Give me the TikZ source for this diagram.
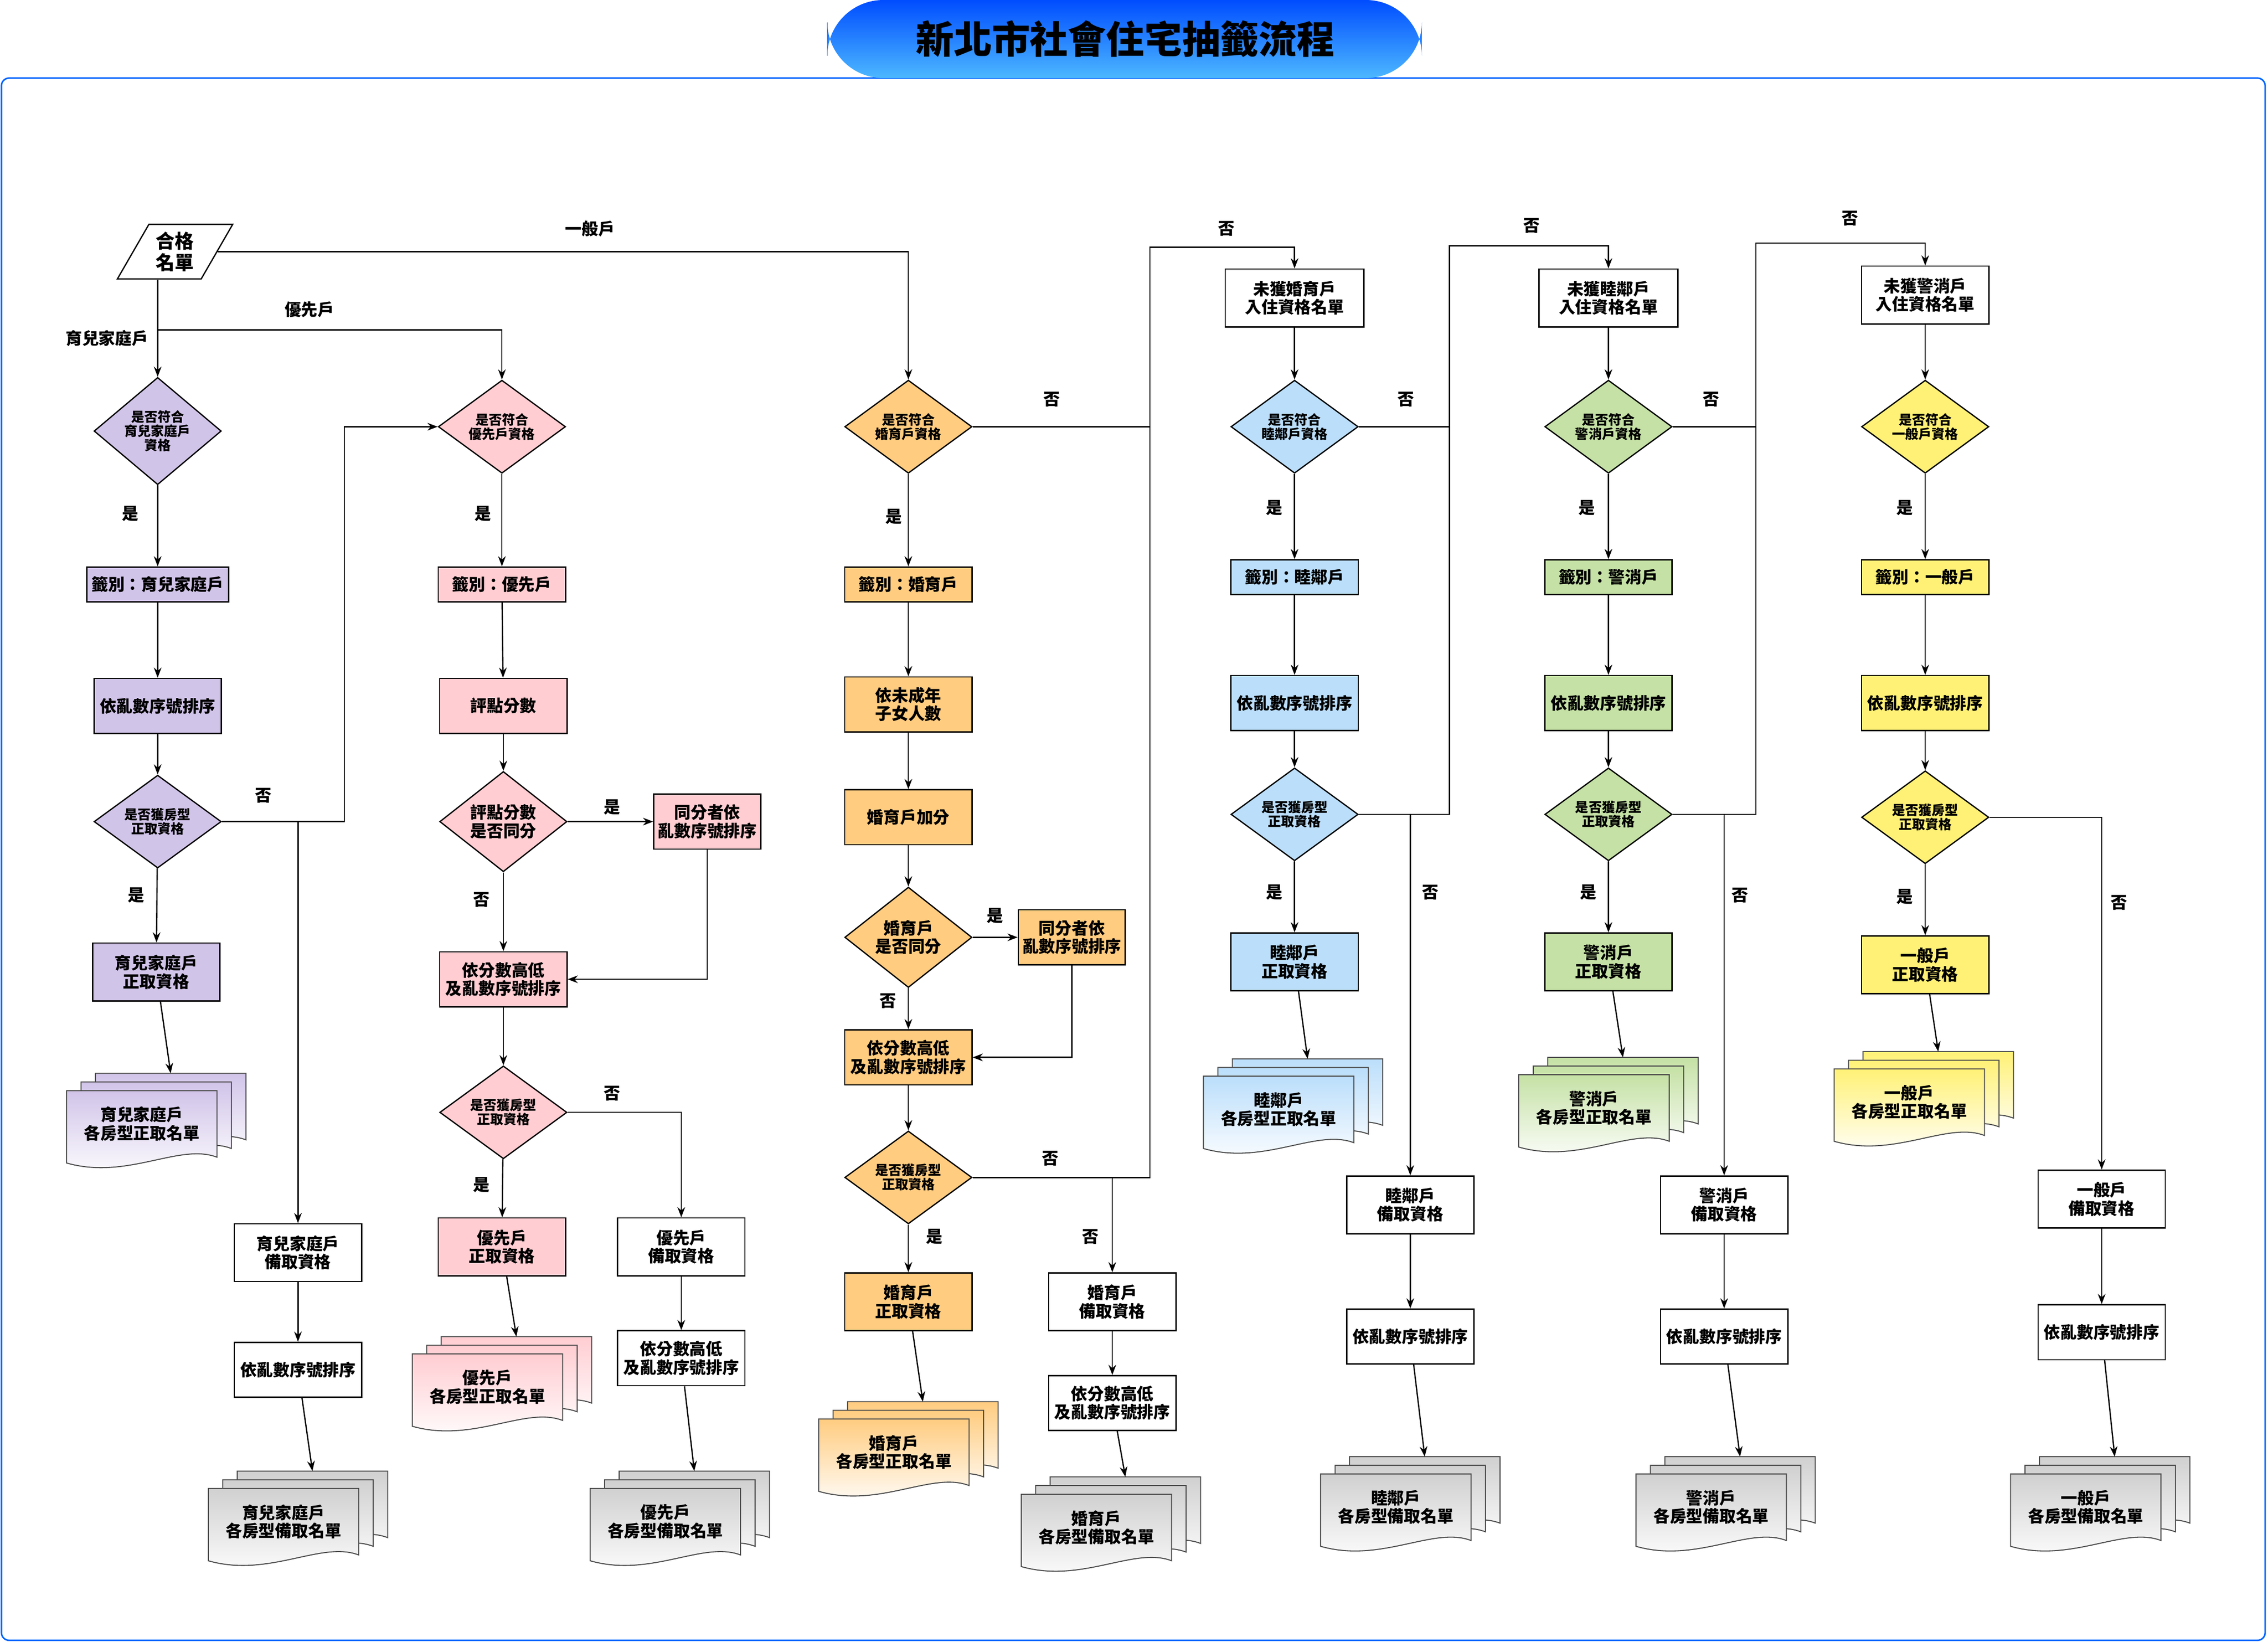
\documentclass[tikz,border=0pt]{standalone}
\usepackage{fontspec}
\setmainfont{Noto Sans CJK TC}
\usetikzlibrary{shapes.geometric,arrows.meta}
\newcommand\nf{\fontsize{6.5}{7.2}\selectfont\bfseries}
\newcommand\df{\fontsize{5.2}{5.6}\selectfont\bfseries}
\definecolor{cpur}{HTML}{D1C4E9}
\definecolor{cpink}{HTML}{FFCDD2}
\definecolor{cora}{HTML}{FFCC80}
\definecolor{cblue}{HTML}{BBDEFB}
\definecolor{cgreen}{HTML}{C5E1A5}
\definecolor{cyel}{HTML}{FFF176}
\definecolor{cgrey}{HTML}{D0D0D0}
\newcommand\onedoc[2]{\draw[line width=0.4pt,draw=black!70,top color=#2,bottom color=white,shift={(#1)}] (-52,-26) -- (52,-26) -- (52,20) .. controls (26,10) and (-10,36) .. (-52,24) -- cycle;}
\newcommand\docstack[5]{%
 \onedoc{#2+10,#3-6}{#4}\onedoc{#2,#3}{#4}\onedoc{#2-10,#3+6}{#4}%
 \node[font=\nf,align=center] (#1) at (#2-10,#3+3) {#5};
 \coordinate (#1t) at (#2+10,#3-32);}
\begin{document}
\begin{tikzpicture}[x=0.02cm,y=-0.02cm,
 every path/.style={line width=0.5pt},
 arr/.style={-{Stealth[length=4pt,width=3pt]}},
 box/.style={draw,minimum width=1.76cm,minimum height=0.76cm,align=center,font=\nf,inner sep=1pt},
 sbox/.style={box,minimum height=0.48cm},
 dia/.style={draw,diamond,minimum width=1.76cm,minimum height=1.2cm,inner sep=0pt,align=center,font=\df},
 lab/.style={font=\nf}]
\useasboundingbox (0,0) rectangle (1568,1135);
\fill[white] (0,0) rectangle (1568,1135);
\draw[color=blue!60!cyan,line width=0.6pt,rounded corners=3] (1,54) rectangle (1566,1134);
\shade[top color=blue!70!cyan,bottom color=blue!40!cyan!70,rounded corners=22] (572,54) -- (572,0) -- (983,0) -- (983,54) -- cycle;
\node[font=\fontsize{15}{16}\selectfont\bfseries] (title) at (778,27) {新北市社會住宅抽籤流程};

% source
\node[draw,trapezium,trapezium left angle=60,trapezium right angle=120,minimum width=1.6cm,minimum height=0.68cm,inner sep=0pt,align=center,font=\fontsize{7.5}{8.5}\selectfont\bfseries] (src) at (121,174) {合格\\名單};

% column 1
\node[dia,fill=cpur] (d1) at (109,298) {是否符合\\育兒家庭戶\\資格};
\node[sbox,fill=cpur,minimum width=1.96cm] (a1) at (109,404) {籤別：育兒家庭戶};
\node[box,fill=cpur] (a2) at (109,488) {依亂數序號排序};
\node[dia,fill=cpur] (d1b) at (109,568) {是否獲房型\\正取資格};
\node[box,fill=cpur,minimum height=0.8cm] (a3) at (108,672) {育兒家庭戶\\正取資格};
\docstack{s1}{108}{774}{cpur}{育兒家庭戶\\各房型正取名單}
\node[box,minimum height=0.8cm] (y1) at (206,866) {育兒家庭戶\\備取資格};
\node[box] (y2) at (206,947) {依亂數序號排序};
\docstack{s1b}{206}{1049}{cgrey}{育兒家庭戶\\各房型備取名單}

% column 2
\node[dia,fill=cpink] (d2) at (347,295) {是否符合\\優先戶資格};
\node[sbox,fill=cpink] (p1) at (347,404) {籤別：優先戶};
\node[box,fill=cpink] (p2) at (348,488) {評點分數};
\node[dia,fill=cpink,font=\nf] (d2b) at (348,568) {評點分數\\是否同分};
\node[box,fill=cpink,minimum width=1.48cm] (p3) at (489,568) {同分者依\\亂數序號排序};
\node[box,fill=cpink] (p4) at (348,677) {依分數高低\\及亂數序號排序};
\node[dia,fill=cpink] (d2c) at (348,769) {是否獲房型\\正取資格};
\node[box,fill=cpink,minimum height=0.8cm] (p5) at (347,862) {優先戶\\正取資格};
\docstack{s2}{347}{956}{cpink}{優先戶\\各房型正取名單}
\node[box,minimum height=0.8cm] (p6) at (471,862) {優先戶\\備取資格};
\node[box] (p7) at (471,939) {依分數高低\\及亂數序號排序};
\docstack{s2b}{470}{1049}{cgrey}{優先戶\\各房型備取名單}

% column 3
\node[dia,fill=cora] (d3) at (628,295) {是否符合\\婚育戶資格};
\node[sbox,fill=cora] (m1) at (628,404) {籤別：婚育戶};
\node[box,fill=cora] (m2) at (628,487) {依未成年\\子女人數};
\node[box,fill=cora] (m3) at (628,565) {婚育戶加分};
\node[dia,fill=cora,font=\nf] (d3b) at (628,648) {婚育戶\\是否同分};
\node[box,fill=cora,minimum width=1.48cm] (m4) at (741,648) {同分者依\\亂數序號排序};
\node[box,fill=cora] (m5) at (628,731) {依分數高低\\及亂數序號排序};
\node[dia,fill=cora] (d3c) at (628,814) {是否獲房型\\正取資格};
\node[box,fill=cora,minimum height=0.8cm] (m6) at (628,900) {婚育戶\\正取資格};
\docstack{s3}{628}{1001}{cora}{婚育戶\\各房型正取名單}
\node[box,minimum height=0.8cm] (m7) at (769,900) {婚育戶\\備取資格};
\node[box] (m8) at (769,970) {依分數高低\\及亂數序號排序};
\docstack{s3b}{768}{1053}{cgrey}{婚育戶\\各房型備取名單}

% column 4
\node[box,minimum width=1.92cm,minimum height=0.8cm] (n4) at (895,206) {未獲婚育戶\\入住資格名單};
\node[dia,fill=cblue] (d4) at (895,295) {是否符合\\睦鄰戶資格};
\node[sbox,fill=cblue] (b1) at (895,399) {籤別：睦鄰戶};
\node[box,fill=cblue] (b2) at (895,486) {依亂數序號排序};
\node[dia,fill=cblue] (d4b) at (895,563) {是否獲房型\\正取資格};
\node[box,fill=cblue,minimum height=0.8cm] (b3) at (895,665) {睦鄰戶\\正取資格};
\docstack{s4}{894}{764}{cblue}{睦鄰戶\\各房型正取名單}
\node[box,minimum height=0.8cm] (b4) at (975,833) {睦鄰戶\\備取資格};
\node[box] (b5) at (975,924) {依亂數序號排序};
\docstack{s4b}{975}{1039}{cgrey}{睦鄰戶\\各房型備取名單}

% column 5
\node[box,minimum width=1.92cm,minimum height=0.8cm] (n5) at (1112,206) {未獲睦鄰戶\\入住資格名單};
\node[dia,fill=cgreen] (d5) at (1112,295) {是否符合\\警消戶資格};
\node[sbox,fill=cgreen] (g1) at (1112,399) {籤別：警消戶};
\node[box,fill=cgreen] (g2) at (1112,486) {依亂數序號排序};
\node[dia,fill=cgreen] (d5b) at (1112,563) {是否獲房型\\正取資格};
\node[box,fill=cgreen,minimum height=0.8cm] (g3) at (1112,665) {警消戶\\正取資格};
\docstack{s5}{1112}{763}{cgreen}{警消戶\\各房型正取名單}
\node[box,minimum height=0.8cm] (g4) at (1192,833) {警消戶\\備取資格};
\node[box] (g5) at (1192,924) {依亂數序號排序};
\docstack{s5b}{1193}{1039}{cgrey}{警消戶\\各房型備取名單}

% column 6
\node[box,minimum width=1.76cm,minimum height=0.8cm] (n6) at (1331,204) {未獲警消戶\\入住資格名單};
\node[dia,fill=cyel] (d6) at (1331,295) {是否符合\\一般戶資格};
\node[sbox,fill=cyel] (e1) at (1331,399) {籤別：一般戶};
\node[box,fill=cyel] (e2) at (1331,486) {依亂數序號排序};
\node[dia,fill=cyel] (d6b) at (1331,565) {是否獲房型\\正取資格};
\node[box,fill=cyel,minimum height=0.8cm] (e3) at (1331,667) {一般戶\\正取資格};
\docstack{s6}{1330}{759}{cyel}{一般戶\\各房型正取名單}
\node[box,minimum height=0.8cm] (e4) at (1453,829) {一般戶\\備取資格};
\node[box] (e5) at (1453,921) {依亂數序號排序};
\docstack{s6b}{1452}{1039}{cgrey}{一般戶\\各房型備取名單}

% connectors
\coordinate (j1) at (109,228);
\draw[arr] (src.south -| d1) -- (d1.north);
\draw[arr] (j1) -| (d2.north);
\draw[arr] (src.east) -| (d3.north);
\foreach \a/\b in {d1/a1,a1/a2,a2/d1b,d1b/a3,y1/y2,d2/p1,p1/p2,p2/d2b,d2b/p4,p4/d2c,d2c/p5,p6/p7,
 d3/m1,m1/m2,m2/m3,m3/d3b,d3b/m5,m5/d3c,d3c/m6,m7/m8,n4/d4,d4/b1,b1/b2,b2/d4b,d4b/b3,b4/b5,
 n5/d5,d5/g1,g1/g2,g2/d5b,d5b/g3,g4/g5,n6/d6,d6/e1,e1/e2,e2/d6b,d6b/e3,e4/e5}
  \draw[arr] (\a) -- (\b);
\draw[arr] (a3) -- (s1t); \draw[arr] (y2) -- (s1bt);
\draw[arr] (p5) -- (s2t); \draw[arr] (p7) -- (s2bt);
\draw[arr] (m6) -- (s3t); \draw[arr] (m8) -- (s3bt);
\draw[arr] (b3) -- (s4t); \draw[arr] (b5) -- (s4bt);
\draw[arr] (g3) -- (s5t); \draw[arr] (g5) -- (s5bt);
\draw[arr] (e3) -- (s6t); \draw[arr] (e5) -- (s6bt);
\draw[arr] (d1b.east) -- (238,568) |- (d2.west);
\draw[arr] (d1b.east -| y1) -- (y1.north);
\draw[arr] (d2b.east) -- (p3.west);
\draw[arr] (p3.south) |- (p4.east);
\draw[arr] (d2c.east) -| (p6.north);
\draw[arr] (d3b.east) -- (m4.west);
\draw[arr] (m4.south) |- (m5.east);
\coordinate (v3) at (795,171);
\coordinate (v4) at (1002,170);
\coordinate (v5) at (1214,168);
\draw (d3.east) -| (v3);
\draw[arr] (d3c.east) -| (v3) -| (n4.north);
\draw[arr] (d3c.east -| m7) -- (m7.north);
\draw (d4.east) -| (v4);
\draw[arr] (d4b.east) -| (v4) -| (n5.north);
\draw[arr] (d4b.east -| b4) -- (b4.north);
\draw (d5.east) -| (v5);
\draw[arr] (d5b.east) -| (v5) -| (n6.north);
\draw[arr] (d5b.east -| g4) -- (g4.north);
\draw[arr] (d6b.east) -| (e4.north);

% labels
\node[lab] at (408,158) {一般戶};
\node[lab] at (214,214) {優先戶};
\node[lab] at (74,234) {育兒家庭戶};
\node[lab] at (90,355) {是};
\node[lab] at (182,550) {否};
\node[lab] at (94,619) {是};
\node[lab] at (334,355) {是};
\node[lab] at (423,558) {是};
\node[lab] at (333,622) {否};
\node[lab] at (423,756) {否};
\node[lab] at (333,819) {是};
\node[lab] at (727,276) {否};
\node[lab] at (618,357) {是};
\node[lab] at (688,633) {是};
\node[lab] at (614,692) {否};
\node[lab] at (726,801) {否};
\node[lab] at (754,855) {否};
\node[lab] at (646,855) {是};
\node[lab] at (848,158) {否};
\node[lab] at (972,276) {否};
\node[lab] at (881,351) {是};
\node[lab] at (989,617) {否};
\node[lab] at (881,617) {是};
\node[lab] at (1059,156) {否};
\node[lab] at (1183,276) {否};
\node[lab] at (1097,351) {是};
\node[lab] at (1203,619) {否};
\node[lab] at (1098,617) {是};
\node[lab] at (1279,151) {否};
\node[lab] at (1317,351) {是};
\node[lab] at (1465,624) {否};
\node[lab] at (1317,620) {是};
\end{tikzpicture}
\end{document}
